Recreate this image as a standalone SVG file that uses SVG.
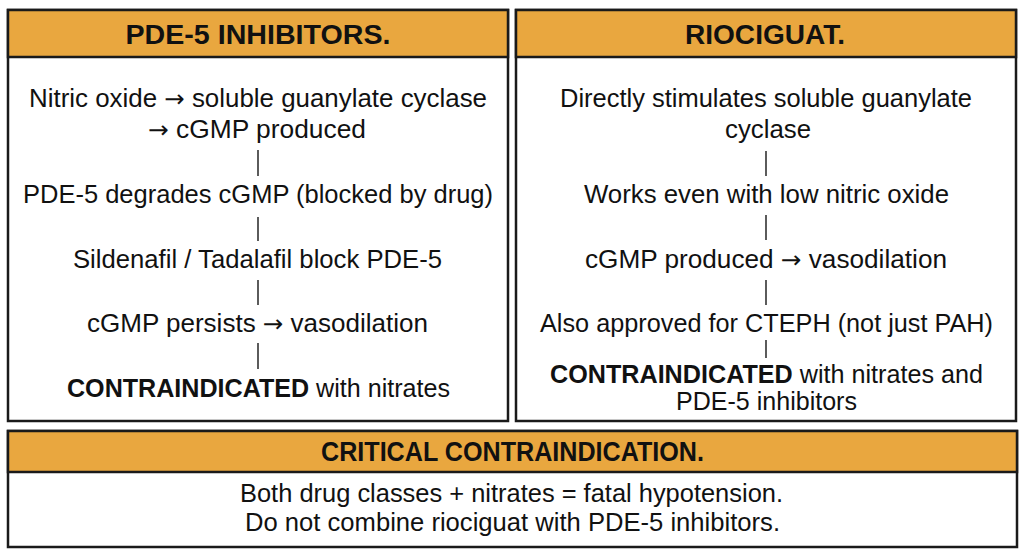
<svg xmlns="http://www.w3.org/2000/svg" width="1024" height="559" viewBox="0 0 1024 559">
<style>
.panel{fill:#ffffff;stroke:#1a1a1a;stroke-width:2.5}
.head{fill:#E9A73F;stroke:#1a1a1a;stroke-width:2.5}
.ht{font-family:"Liberation Sans",Arial,sans-serif;font-weight:bold;font-size:27px;fill:#111;text-anchor:middle}
.bt{font-family:"Liberation Sans","DejaVu Sans",Arial,sans-serif;font-size:25.5px;fill:#111;text-anchor:middle}
.b{font-weight:bold}
.ar{font-family:"DejaVu Sans",sans-serif;font-size:24px}
.bar{stroke:#333;stroke-width:1.6;fill:none}
</style>
<rect width="1024" height="559" fill="#ffffff"/>
<g id="pde5">
<rect class="panel" x="8" y="10" width="500" height="411"/>
<rect class="head" x="8" y="10" width="500" height="47"/>
<text class="ht" x="258" y="43.5" textLength="265" lengthAdjust="spacingAndGlyphs">PDE-5 INHIBITORS.</text>
<text class="bt" x="258" y="107" textLength="458" lengthAdjust="spacingAndGlyphs">Nitric oxide <tspan class="ar">→</tspan> soluble guanylate cyclase</text>
<text class="bt" x="257" y="138" textLength="218" lengthAdjust="spacingAndGlyphs"><tspan class="ar">→</tspan> cGMP produced</text>
<text class="bt" x="258" y="203" textLength="470" lengthAdjust="spacingAndGlyphs">PDE-5 degrades cGMP (blocked by drug)</text>
<text class="bt" x="257.5" y="268" textLength="369" lengthAdjust="spacingAndGlyphs">Sildenafil / Tadalafil block PDE-5</text>
<text class="bt" x="257.5" y="332" textLength="341" lengthAdjust="spacingAndGlyphs">cGMP persists <tspan class="ar">→</tspan> vasodilation</text>
<text class="bt" x="258.5" y="397" textLength="383" lengthAdjust="spacingAndGlyphs"><tspan class="b">CONTRAINDICATED</tspan> with nitrates</text>
</g>
<g id="riociguat">
<rect class="panel" x="516" y="10" width="500" height="411"/>
<rect class="head" x="516" y="10" width="500" height="47"/>
<text class="ht" x="765" y="43.5" textLength="160" lengthAdjust="spacingAndGlyphs">RIOCIGUAT.</text>
<text class="bt" x="766" y="107" textLength="412" lengthAdjust="spacingAndGlyphs">Directly stimulates soluble guanylate</text>
<text class="bt" x="768" y="138" textLength="86" lengthAdjust="spacingAndGlyphs">cyclase</text>
<text class="bt" x="766.5" y="203" textLength="365" lengthAdjust="spacingAndGlyphs">Works even with low nitric oxide</text>
<text class="bt" x="766" y="268" textLength="362" lengthAdjust="spacingAndGlyphs">cGMP produced <tspan class="ar">→</tspan> vasodilation</text>
<text class="bt" x="766.5" y="332" textLength="453" lengthAdjust="spacingAndGlyphs">Also approved for CTEPH (not just PAH)</text>
<text class="bt" x="766.5" y="383" textLength="433" lengthAdjust="spacingAndGlyphs"><tspan class="b">CONTRAINDICATED</tspan> with nitrates and</text>
<text class="bt" x="766.5" y="410" textLength="181" lengthAdjust="spacingAndGlyphs">PDE-5 inhibitors</text>
</g>
<g id="critical">
<rect class="panel" x="8" y="431" width="1009" height="116"/>
<rect class="head" x="8" y="431" width="1009" height="41"/>
<text class="ht" x="512.5" y="461" textLength="383" lengthAdjust="spacingAndGlyphs">CRITICAL CONTRAINDICATION.</text>
<text class="bt" x="511.5" y="502" textLength="543" lengthAdjust="spacingAndGlyphs">Both drug classes + nitrates = fatal hypotension.</text>
<text class="bt" x="512.5" y="531" textLength="535" lengthAdjust="spacingAndGlyphs">Do not combine riociguat with PDE-5 inhibitors.</text>
</g>
<g id="connectors">
<line class="bar" x1="258" y1="150" x2="258" y2="176"/>
<line class="bar" x1="258" y1="217" x2="258" y2="241"/>
<line class="bar" x1="258" y1="280" x2="258" y2="305"/>
<line class="bar" x1="258" y1="343" x2="258" y2="369"/>
<line class="bar" x1="766" y1="151" x2="766" y2="176"/>
<line class="bar" x1="766" y1="215" x2="766" y2="240"/>
<line class="bar" x1="766" y1="280" x2="766" y2="305"/>
<line class="bar" x1="766" y1="340" x2="766" y2="358"/>
</g>
</svg>
